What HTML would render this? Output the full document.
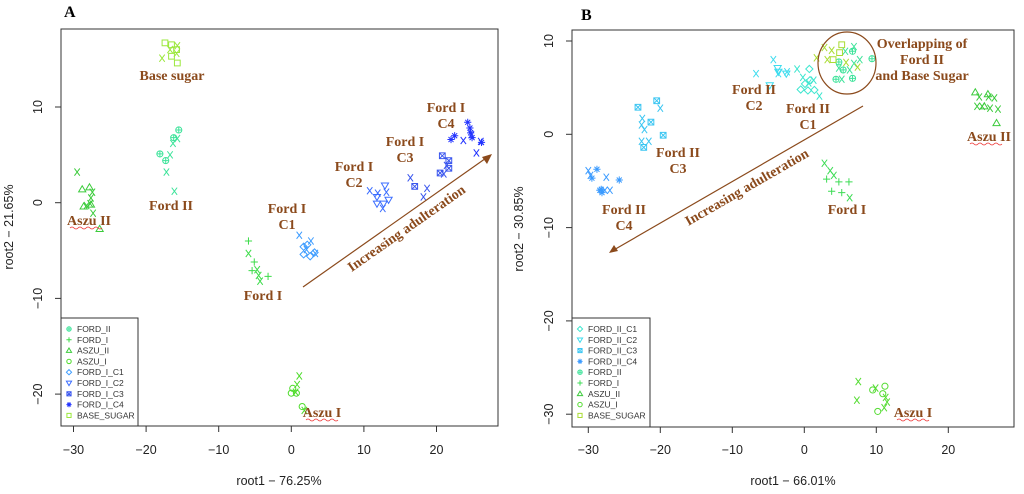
<!DOCTYPE html>
<html><head><meta charset="utf-8"><style>
body{margin:0;background:#fff;width:1024px;height:494px;overflow:hidden}
svg{display:block}
.tk{font-family:"Liberation Sans",sans-serif;font-size:12.5px;fill:#222}
.lg{font-family:"Liberation Sans",sans-serif;font-size:8.5px;fill:#333}
.an{font-family:"Liberation Serif",serif;font-weight:bold;font-size:14px;fill:#8b4a1c}
</style></head><body>
<svg id="chart" width="1024" height="494" viewBox="0 0 1024 494">
<text x="64" y="17" font-family="Liberation Serif,serif" font-weight="bold" font-size="16">A</text>
<text x="581" y="20" font-family="Liberation Serif,serif" font-weight="bold" font-size="16">B</text>
<rect x="61" y="29" width="437" height="397" fill="none" stroke="#333" stroke-width="1"/>
<rect x="572" y="30" width="442" height="397" fill="none" stroke="#333" stroke-width="1"/>
<text class="tk" x="279" y="485" text-anchor="middle">root1 − 76.25%</text>
<text class="tk" x="793" y="485" text-anchor="middle">root1 − 66.01%</text>
<text class="tk" transform="translate(13,227) rotate(-90)" text-anchor="middle">root2 − 21.65%</text>
<text class="tk" transform="translate(523,229) rotate(-90)" text-anchor="middle">root2 − 30.85%</text>
<g id="marksA"></g><g id="marksB"></g>
<!-- Annotations A -->
<g>
<text class="an" x="172" y="80" text-anchor="middle">Base sugar</text>
<text class="an" x="171" y="210" text-anchor="middle">Ford II</text>
<text class="an" x="89" y="225" text-anchor="middle">Aszu II</text>
<path d="M70 228 q2 -2 4 0 t4 0 t4 0 t4 0 t4 0 t4 0 t4 0 t4 0" stroke="#e33" fill="none" stroke-width="0.8"/>
<text class="an" x="263" y="300" text-anchor="middle">Ford I</text>
<text class="an" x="287" y="213" text-anchor="middle">Ford I</text><text class="an" x="287" y="229" text-anchor="middle">C1</text>
<text class="an" x="354" y="171" text-anchor="middle">Ford I</text><text class="an" x="354" y="187" text-anchor="middle">C2</text>
<text class="an" x="405" y="146" text-anchor="middle">Ford I</text><text class="an" x="405" y="162" text-anchor="middle">C3</text>
<text class="an" x="446" y="112" text-anchor="middle">Ford I</text><text class="an" x="446" y="128" text-anchor="middle">C4</text>
<text class="an" x="322" y="417" text-anchor="middle">Aszu I</text>
<path d="M306 420 q2 -2 4 0 t4 0 t4 0 t4 0 t4 0 t4 0 t4 0 t4 0" stroke="#e33" fill="none" stroke-width="0.8"/>
<line x1="303" y1="287" x2="489" y2="156" stroke="#8b4a1c" stroke-width="1.2"/>
<polygon points="492,154 482,157 487,164" fill="#8b4a1c"/>
<text class="an" transform="translate(409,232) rotate(-35)" text-anchor="middle">Increasing adulteration</text>
</g>
<!-- Annotations B -->
<g>
<ellipse cx="847" cy="63" rx="29" ry="31" fill="none" stroke="#8b4a1c" stroke-width="1.2"/>
<text class="an" x="922" y="48" text-anchor="middle">Overlapping of</text>
<text class="an" x="922" y="64" text-anchor="middle">Ford II</text>
<text class="an" x="922" y="80" text-anchor="middle">and Base Sugar</text>
<text class="an" x="754" y="94" text-anchor="middle">Ford II</text><text class="an" x="754" y="110" text-anchor="middle">C2</text>
<text class="an" x="808" y="113" text-anchor="middle">Ford II</text><text class="an" x="808" y="129" text-anchor="middle">C1</text>
<text class="an" x="678" y="157" text-anchor="middle">Ford II</text><text class="an" x="678" y="173" text-anchor="middle">C3</text>
<text class="an" x="624" y="214" text-anchor="middle">Ford II</text><text class="an" x="624" y="230" text-anchor="middle">C4</text>
<text class="an" x="847" y="214" text-anchor="middle">Ford I</text>
<text class="an" x="989" y="141" text-anchor="middle">Aszu II</text>
<path d="M970 144 q2 -2 4 0 t4 0 t4 0 t4 0 t4 0 t4 0 t4 0 t4 0" stroke="#e33" fill="none" stroke-width="0.8"/>
<text class="an" x="913" y="417" text-anchor="middle">Aszu I</text>
<path d="M897 420 q2 -2 4 0 t4 0 t4 0 t4 0 t4 0 t4 0 t4 0 t4 0" stroke="#e33" fill="none" stroke-width="0.8"/>
<line x1="863" y1="106" x2="612" y2="251" stroke="#8b4a1c" stroke-width="1.2"/>
<polygon points="609,253 614,245 618,251" fill="#8b4a1c"/>
<text class="an" transform="translate(749,191) rotate(-30)" text-anchor="middle">Increasing adulteration</text>
</g>
<g id="legA"></g><g id="legB"></g>
</svg>
<script>
// Panel A data
const aNames=["FORD_II","FORD_I","ASZU_II","ASZU_I","FORD_I_C1","FORD_I_C2","FORD_I_C3","FORD_I_C4","BASE_SUGAR"];
const aShapes=["cplus","plus","tri","circ","diam","tridown","boxx","ast","sq"];
const aColors=["#3de39a","#3ddc4a","#3ccb3c","#4fdc2c","#3d9cff","#3b6dff","#3a56ee","#2233ff","#9be83c"];
const aX=[[-15.5,-16.2,-18.1,-17.3],[-5.9,-5.1,-5.4,-3.2],[-28.8,-27.8,-28.6,-27.6,-26.4],[0.2,0,0.7,1.5],[1.7,1.7,2.6,3.2,2.2],[11.8,12.9,12.7,13.4,11.8],[20.8,21.7,21.7,20.5,17.0],[24.3,24.6,22.5,22.0,24.9,26.2,24.7],[-17.4,-16.5,-15.7,-16.5,-15.8]];
const aY=[[7.6,6.8,5.1,4.4],[-4.0,-6.2,-7.1,-7.7],[1.4,1.6,-0.4,-0.2,-2.75],[-19.4,-19.9,-19.9,-21.3],[-4.6,-5.4,-5.6,-5.2,-4.4],[-0.1,1.8,-0.1,0.3,0.6],[4.9,4.4,3.6,3.1,1.7],[8.4,7.8,7.0,6.6,6.8,6.3,7.3],[16.7,16.5,14.6,15.3,16.0]];
const aXcX=[[-15.7,-16.3,-16.7,-17.2,-16.1],[-5.9,-4.7,-4.5,-4.3],[-29.5,-27.4,-27.6,-27.7,-28.2,-27.3],[1.1,0.8,0.6,1.8],[1.1,2.7,3.3,2.1],[10.8,11.9,12.6,13.1],[16.4,18.7,18.2,21.0,21.4],[23.7,25.5,26.1,24.8],[-17.8,-15.7,-16.7,-15.8]];
const aXcY=[[6.7,6.2,5.0,3.2,1.2],[-5.3,-7.0,-7.6,-8.2],[3.2,1.1,0.5,-0.1,-0.3,-1.1],[-18.1,-19.0,-19.8,-21.7],[-3.4,-4.0,-5.3,-4.9],[1.25,1.0,-0.6,1.1],[2.6,1.5,0.6,3.0,3.9],[6.5,5.2,6.4,7.1],[15.1,16.4,16.0,15.6]];
const aXTicks=[-30,-20,-10,0,10,20];
const aYTicks=[-20,-10,0,10];
// Panel B data
const bNames=["FORD_II_C1","FORD_II_C2","FORD_II_C3","FORD_II_C4","FORD_II","FORD_I","ASZU_II","ASZU_I","BASE_SUGAR"];
const bShapes=["diam","tridown","boxx","ast","cplus","plus","tri","circ","sq"];
const bColors=["#3de6cf","#3ddcee","#3cc6f2","#3b9bff","#3de39a","#3ddc55","#3ccb3c","#55dc33","#a9dc33"];
const bX=[[0.7,-0.5,0.5,1.4,0.8,0.1],[-3.7,-3.6,-2.5,-4.8],[-23.1,-20.5,-21.3,-19.6,-22.3],[-28.8,-29.5,-25.7,-28.2,-28.1,-28.4],[6.7,4.8,5.4,9.4,4.4,6.7],[3.1,4.8,6.2,3.8,5.2],[23.75,25.5,25.0,26.7],[11.2,10.9,10.2,9.5],[5.2,4.9,4.0]];
const bY=[[7.0,4.8,4.7,4.75,5.8,5.4],[7.1,6.7,6.5,5.25],[2.9,3.6,1.3,-0.1,-1.4],[-3.75,-4.7,-4.9,-5.9,-6.25,-6.0],[8.9,7.75,6.9,8.1,5.9,6.0],[-4.8,-5.1,-5.1,-6.1,-6.25],[4.5,4.3,3.0,1.2],[-27.0,-27.8,-29.7,-27.4],[9.6,8.75,8.0]];
const bXcX=[[-1.0,-0.2,0.6,1.3,2.1],[-6.7,-4.3,-2.4,-3.6],[-20.0,-22.5,-22.6,-22.2,-22.6,-21.6],[-30.0,-29.7,-27.5,-27.0,-27.7],[6.9,5.7,7.7,6.9,6.3,5.2,4.8],[2.8,3.6,4.1,6.3],[24.3,25.6,26.4,24.0,25.8,26.9,24.7],[7.5,7.3,9.9,11.3,11.1,11.5],[2.8,3.8,1.7,3.2,5.8,7.4]];
const bXcY=[[7.0,6.1,5.5,5.8,4.1],[6.5,8.0,6.7,6.5],[2.8,1.7,1.0,0.5,-0.75,-0.75],[-3.9,-4.4,-4.6,-6.0,-6.0],[9.4,8.9,8.0,7.6,6.9,5.9,7.1],[-3.1,-3.9,-4.4,-6.8],[4.0,4.0,3.9,3.0,2.8,2.7,3.0],[-26.5,-28.5,-27.2,-28.2,-29.3,-28.7],[9.3,9.0,8.2,8.0,7.7,7.2]];
const bXTicks=[-30,-20,-10,0,10,20];
const bYTicks=[-30,-20,-10,0,10];

const NS="http://www.w3.org/2000/svg";
function mk(tag,attrs,parent){const e=document.createElementNS(NS,tag);for(const k in attrs)e.setAttribute(k,attrs[k]);parent.appendChild(e);return e;}
function marker(g,shape,cx,cy,col,r){
  const s={stroke:col,fill:"none","stroke-width":1};
  let d="";
  if(shape==="x"){d=`M${cx-r*0.75} ${cy-r}L${cx+r*0.75} ${cy+r}M${cx+r*0.75} ${cy-r}L${cx-r*0.75} ${cy+r}`;}
  else if(shape==="plus"){d=`M${cx-r} ${cy}H${cx+r}M${cx} ${cy-r}V${cy+r}`;}
  else if(shape==="sq"){d=`M${cx-r*0.8} ${cy-r*0.8}h${1.6*r}v${1.6*r}h${-1.6*r}z`;}
  else if(shape==="tri"){d=`M${cx} ${cy-r}L${cx+r} ${cy+r*0.7}L${cx-r} ${cy+r*0.7}z`;}
  else if(shape==="tridown"){d=`M${cx} ${cy+r}L${cx+r} ${cy-r*0.7}L${cx-r} ${cy-r*0.7}z`;}
  else if(shape==="diam"){d=`M${cx} ${cy-r}L${cx+r} ${cy}L${cx} ${cy+r}L${cx-r} ${cy}z`;}
  else if(shape==="boxx"){d=`M${cx-r*0.8} ${cy-r*0.8}h${1.6*r}v${1.6*r}h${-1.6*r}zM${cx-r*0.8} ${cy-r*0.8}L${cx+r*0.8} ${cy+r*0.8}M${cx+r*0.8} ${cy-r*0.8}L${cx-r*0.8} ${cy+r*0.8}`;}
  else if(shape==="ast"){d=`M${cx-r} ${cy}H${cx+r}M${cx} ${cy-r}V${cy+r}M${cx-r*0.7} ${cy-r*0.7}L${cx+r*0.7} ${cy+r*0.7}M${cx+r*0.7} ${cy-r*0.7}L${cx-r*0.7} ${cy+r*0.7}`;}
  else if(shape==="circ"){return mk("circle",Object.assign({cx:cx,cy:cy,r:r*0.85},s),g);}
  else if(shape==="cplus"){const gg=mk("g",{},g);mk("circle",Object.assign({cx:cx,cy:cy,r:r*0.85},s),gg);mk("path",Object.assign({d:`M${cx-r*0.85} ${cy}H${cx+r*0.85}M${cx} ${cy-r*0.85}V${cy+r*0.85}`},s),gg);return gg;}
  return mk("path",Object.assign({d:d},s),g);
}
function panel(gid,sx,sy,names,shapes,colors,X,Y,XX,XY,xt,yt,box,ytx,leg){
  const g=document.getElementById(gid);
  xt.forEach(v=>{const px=sx(v);
    const t=mk("line",{x1:px,y1:box.b,x2:px,y2:box.b+6,stroke:"#333"},g);
    
    
    const l=mk("text",{x:px,y:454,class:"tk","text-anchor":"middle"},g);l.textContent=(v<0?"−":"")+Math.abs(v);
    
    });
  yt.forEach(v=>{const py=sy(v);
    const t=mk("line",{x1:box.l-6,y1:py,x2:box.l,y2:py,stroke:"#333"},g);
    
    
    const l=mk("text",{class:"tk","text-anchor":"middle",transform:`translate(${ytx},${py}) rotate(-90)`},g);l.textContent=(v<0?"−":"")+Math.abs(v);
    
    });
  names.forEach((n,i)=>{
    X[i].forEach((x,j)=>{const m=marker(g,shapes[i],sx(x),sy(Y[i][j]),colors[i],3.6);
      
      });
    XX[i].forEach((x,j)=>{const m=marker(g,"x",sx(x),sy(XY[i][j]),colors[i],3.6);
      
      });
  });
  const lg=document.getElementById(leg.id);
  const r=mk("rect",{x:box.l,y:leg.top,width:leg.w,height:box.b-leg.top,fill:"#fff",stroke:"#333"},lg);
  
  
  names.forEach((n,i)=>{const y=leg.top+11+i*10.8;
    const m=marker(lg,shapes[i],leg.sx,y,colors[i],2.6);
    
    
    const t=mk("text",{x:leg.sx+8,y:y+3,class:"lg"},lg);t.textContent=n;
    
    });
}
panel("marksA",x=>291.3+x*7.26,y=>202.7-y*9.57,aNames,aShapes,aColors,aX,aY,aXcX,aXcY,aXTicks,aYTicks,{l:61,b:426},42,{id:"legA",top:318,w:77,sx:69});
panel("marksB",x=>804.3+x*7.2,y=>134.3-y*9.33,bNames,bShapes,bColors,bX,bY,bXcX,bXcY,bXTicks,bYTicks,{l:572,b:427},553,{id:"legB",top:318,w:78,sx:580});
</script>
</body></html>
